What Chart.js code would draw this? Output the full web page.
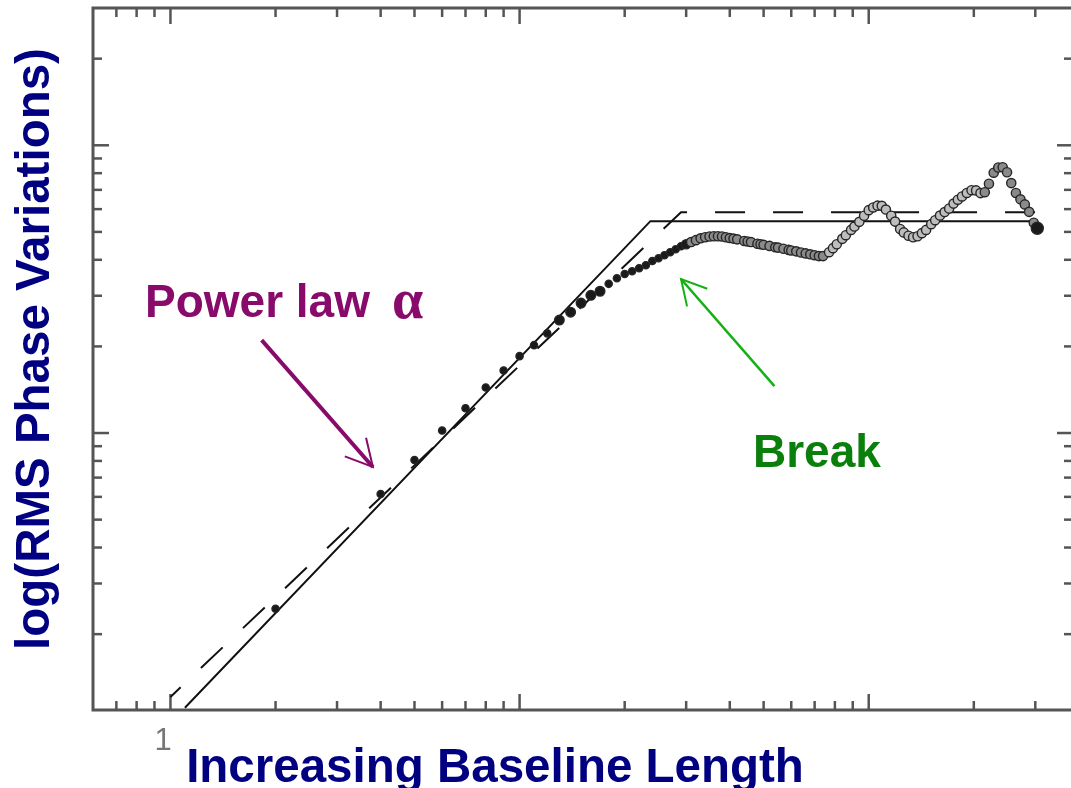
<!DOCTYPE html>
<html lang="en">
<head>
<meta charset="UTF-8">
<title>RMS phase vs baseline</title>
<script src="https://cdn.jsdelivr.net/npm/chart.js"></script>
<style>
    body { margin: 0; background: #fff; overflow: hidden; }
    #wrap { position: relative; width: 1071px; height: 788px; overflow: hidden; background: #fff; }
    #chart { position: absolute; left: 0; top: 0; }
    .t { position: absolute; font-family: "Liberation Sans", Arial, sans-serif; font-weight: bold;
         white-space: nowrap; line-height: normal; }
</style>
</head>
<body>
<div id="wrap">
    <canvas id="chart" width="1100" height="788"></canvas>

    <!-- axis titles -->
    <div class="t" style="left:95px; top:738px; width:800px; text-align:center; font-size:47.5px; color:#000080;">Increasing Baseline Length</div>
    <div class="t" style="left:5px; top:699px; width:700px; text-align:center; font-size:47.5px; color:#000080; transform-origin:0 0; transform:rotate(-90deg);">log(RMS Phase Variations)</div>
    <div class="t" style="left:143px; top:722px; width:40px; text-align:center; font-size:31px; font-weight:normal; color:#777; font-family:'Liberation Sans Narrow', 'Liberation Sans', sans-serif;">1</div>

    <!-- annotations -->
    <div class="t" style="left:145px; top:274px; font-size:46px; color:#880a6b;">Power law</div>
    <div class="t" style="left:392px; top:267px; font-size:56px; color:#880a6b; font-family:'Liberation Serif', serif;">α</div>
    <div class="t" style="left:753px; top:424px; font-size:46px; color:#0b7f0b;">Break</div>
</div>

<script>
    // measured rms phase against baseline length
    const baseline = [2, 4, 5, 6, 7, 8, 9, 10, 11, 12,
        13, 14, 15, 16, 17, 18, 19, 20, 21, 22, 23, 24, 25, 26, 27, 28, 29, 30,
        31, 32, 33, 34, 35, 36, 37, 38, 39, 40, 41, 42,
        44, 45, 46, 48, 49, 50, 52, 54, 55, 57, 59, 60,
        62, 64, 66, 68, 70, 72, 74, 77, 79, 81, 84, 86, 89, 91, 94, 97,
        100, 103, 106, 109, 112, 116, 119, 123, 126, 130, 134, 138, 142, 146, 151, 155, 160, 165,
        170, 175, 180, 185, 191, 197, 203, 209, 215, 221, 228, 235, 242, 249, 256, 264, 272, 280,
        288, 297, 304];
    const rmsPhase = [0.245, 0.614, 0.806, 1.02, 1.22, 1.44, 1.65, 1.85, 2.02, 2.22,
        2.47, 2.63, 2.83, 3.01, 3.11, 3.30, 3.45, 3.57, 3.65, 3.74, 3.83, 3.96, 4.05, 4.15, 4.25, 4.35, 4.46, 4.53,
        4.61, 4.68, 4.75, 4.79, 4.82, 4.83, 4.83, 4.82, 4.79, 4.76, 4.74, 4.71,
        4.65, 4.63, 4.61, 4.55, 4.53, 4.51, 4.47, 4.42, 4.41, 4.37, 4.33, 4.31,
        4.28, 4.24, 4.21, 4.18, 4.15, 4.12, 4.12, 4.25, 4.39, 4.53, 4.73, 4.87, 5.08, 5.22, 5.42, 5.69,
        5.95, 6.08, 6.17, 6.16, 5.98, 5.69, 5.43, 5.12, 4.98, 4.85, 4.79, 4.83, 4.95, 5.08, 5.32, 5.49, 5.70, 5.86,
        6.03, 6.27, 6.47, 6.64, 6.83, 6.98, 6.97, 6.82, 6.87, 7.35, 8.03, 8.37, 8.39, 8.06, 7.39, 6.83, 6.49, 6.23,
        5.87, 5.38, 5.15];

    // broken power-law models
    const solidX = [1.1, 23.7, 296];
    const solidY = [0.111, 5.45, 5.45];
    const dashX = [1.0, 29.0, 304];
    const dashY = [0.121, 5.85, 5.85];

    // axis ranges and tick marks
    const xRange = [0.6325, 384.7];
    const yRange = [0.109, 30];
    const xMajorTicks = [1, 10, 100];
    const xMinorTicks = [0.7, 0.8, 0.9, 2, 3, 4, 5, 6, 7, 8, 9, 20, 30, 40, 50, 60, 70, 80, 90, 200, 300];
    const yMajorTicks = [1, 10];
    const yMinorTicks = [0.2, 0.3, 0.4, 0.5, 0.6, 0.7, 0.8, 0.9, 2, 3, 4, 5, 6, 7, 8, 9, 20];

    // arrows: [tail, tip] in data units
    const alphaArrow = [[1.825, 2.103], [3.80, 0.762]];
    const breakArrow = [[53.7, 1.456], [29.0, 3.43]];

    const pts = (xs, ys) => xs.map((v, i) => ({ x: v, y: ys[i] }));

    const frameTicks = {
        id: 'frameTicks',
        beforeDatasetsDraw(chart) {
            const { ctx, chartArea: a, scales } = chart;
            ctx.save();
            ctx.strokeStyle = '#555';
            ctx.lineWidth = 3;
            ctx.strokeRect(a.left, a.top, a.right - a.left, a.bottom - a.top);
            ctx.lineWidth = 2.5;
            const seg = (x0, y0, x1, y1) => { ctx.beginPath(); ctx.moveTo(x0, y0); ctx.lineTo(x1, y1); ctx.stroke(); };
            xMajorTicks.concat(xMinorTicks).forEach(v => {
                const len = xMajorTicks.includes(v) ? 16 : 9;
                const px = scales.x.getPixelForValue(v);
                seg(px, a.bottom, px, a.bottom - len);
                seg(px, a.top, px, a.top + len);
            });
            yMajorTicks.concat(yMinorTicks).forEach(v => {
                const len = yMajorTicks.includes(v) ? 16 : 9;
                const py = scales.y.getPixelForValue(v);
                seg(a.left, py, a.left + len, py);
                seg(a.right, py, a.right - len, py);
            });
            ctx.restore();
        },
        afterDatasetsDraw(chart) {
            const { ctx, scales } = chart;
            const arrow = (pair, color, shaftW, headLen, headAng) => {
                const x0 = scales.x.getPixelForValue(pair[0][0]), y0 = scales.y.getPixelForValue(pair[0][1]);
                const x1 = scales.x.getPixelForValue(pair[1][0]), y1 = scales.y.getPixelForValue(pair[1][1]);
                const ang = Math.atan2(y0 - y1, x0 - x1);
                ctx.strokeStyle = color;
                ctx.lineWidth = shaftW;
                ctx.beginPath(); ctx.moveTo(x0, y0); ctx.lineTo(x1, y1); ctx.stroke();
                ctx.lineWidth = 2;
                ctx.beginPath();
                ctx.moveTo(x1 + headLen * Math.cos(ang - headAng), y1 + headLen * Math.sin(ang - headAng));
                ctx.lineTo(x1, y1);
                ctx.lineTo(x1 + headLen * Math.cos(ang + headAng), y1 + headLen * Math.sin(ang + headAng));
                ctx.stroke();
            };
            ctx.save();
            arrow(alphaArrow, '#880a6b', 4, 30, 0.49);
            arrow(breakArrow, '#14b014', 2.5, 28, 0.5);
            ctx.restore();
        }
    };

    new Chart(document.getElementById('chart'), {
        type: 'scatter',
        data: {
            datasets: [{
                label: 'RMS phase',
                data: pts(baseline, rmsPhase),
                showLine: false,
                order: 0,
                pointRadius: c => {
                    const b = baseline[c.dataIndex];
                    if (c.dataIndex === baseline.length - 1) return 6;
                    if (b >= 13 && b < 18) return 4.8;
                    if (b >= 30) return 4.6;
                    return 3.6;
                },
                pointBackgroundColor: c => {
                    const b = baseline[c.dataIndex];
                    if (c.dataIndex === baseline.length - 1 || b < 31) return '#1a1a1a';
                    return b < 75 || b > 210 ? '#8a8a8a' : '#bdbdbd';
                },
                pointBorderColor: '#262626',
                pointBorderWidth: 1.4
            }, {
                label: 'model',
                data: pts(solidX, solidY),
                showLine: true,
                order: 1,
                borderColor: '#111',
                borderWidth: 2,
                pointRadius: 0
            }, {
                label: 'model (dashed)',
                data: pts(dashX, dashY),
                showLine: true,
                order: 1,
                borderColor: '#111',
                borderWidth: 2,
                borderDash: [30, 28],
                borderDashOffset: 16,
                pointRadius: 0
            }]
        },
        options: {
            responsive: false,
            animation: false,
            events: [],
            layout: { padding: { left: 93, top: 8, right: 27, bottom: 78 } },
            plugins: { legend: { display: false }, tooltip: { enabled: false } },
            scales: {
                x: { type: 'logarithmic', display: false, min: xRange[0], max: xRange[1] },
                y: { type: 'logarithmic', display: false, min: yRange[0], max: yRange[1] }
            }
        },
        plugins: [frameTicks]
    });
</script>
</body>
</html>
